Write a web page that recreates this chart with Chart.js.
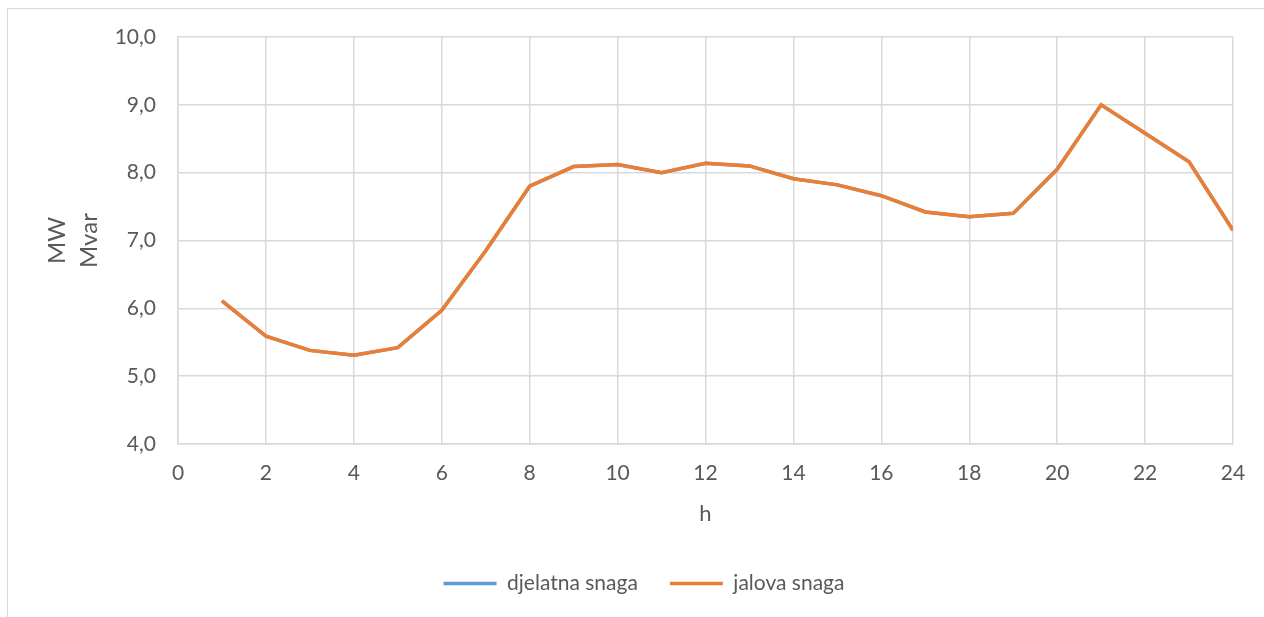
<!DOCTYPE html>
<html>
<head>
<meta charset="utf-8">
<script src="https://cdn.jsdelivr.net/npm/chart.js@4.4.1/dist/chart.umd.min.js"></script>
<style>
  html, body { margin: 0; padding: 0; background: #fff; overflow: hidden; }
  #frame { position: absolute; left: 7px; top: 8px; width: 1300px; height: 700px; border: 1.5px solid #d9d9d9; }
  #wrap { position: absolute; left: 0; top: 0; width: 1264px; height: 617px; }
</style>
</head>
<body>
<div id="frame"></div>
<div id="wrap"><canvas id="powerChart"></canvas></div>
<script>
// hourly values
const hours = [1, 2, 3, 4, 5, 6, 7, 8, 9, 10, 11, 12, 13, 14, 15, 16, 17, 18, 19, 20, 21, 22, 23, 24];
const activePower = [6.11, 5.59, 5.38, 5.31, 5.42, 5.97, 6.85, 7.80, 8.09, 8.12, 8.00, 8.14,
                     8.10, 7.91, 7.82, 7.66, 7.42, 7.35, 7.40, 8.05, 9.00, 8.58, 8.16, 7.15];
const reactivePower = [6.11, 5.59, 5.38, 5.31, 5.42, 5.97, 6.85, 7.80, 8.09, 8.12, 8.00, 8.14,
                       8.10, 7.91, 7.82, 7.66, 7.42, 7.35, 7.40, 8.05, 9.00, 8.58, 8.16, 7.15];
const seriesNames = ["djelatna snaga", "jalova snaga"];
const yTitle = ["MW", "Mvar"];
const xTitle = "h";

const textColor = "#595959";
const gridColor = "#d9d9d9";
const fontFamily = "Lato, 'Open Sans', sans-serif";

function toPoints(values) {
  return hours.map((h, i) => ({ x: h, y: values[i] }));
}

document.addEventListener("DOMContentLoaded", () => {
  const ctx = document.getElementById("powerChart");

  new Chart(ctx, {
    type: "line",
    data: {
      datasets: [
        {
          label: seriesNames[0],
          data: toPoints(activePower),
          borderColor: "#5b9bd5",
          backgroundColor: "#5b9bd5",
          borderWidth: 3.5,
          pointRadius: 0,
          tension: 0,
          order: 1,
        },
        {
          label: seriesNames[1],
          data: toPoints(reactivePower),
          borderColor: "#ed7d31",
          backgroundColor: "#ed7d31",
          borderWidth: 3.5,
          pointRadius: 0,
          tension: 0,
          order: 0,
        },
      ],
    },
    options: {
      responsive: true,
      maintainAspectRatio: false,
      animation: false,
      layout: {
        padding: { left: 55, top: 37, right: 31, bottom: 13 },
      },
      plugins: {
        legend: {
          position: "bottom",
          labels: {
            usePointStyle: true,
            pointStyle: "line",
            pointStyleWidth: 53,
            padding: 32,
            color: textColor,
            font: { family: fontFamily, size: 21 },
            sort: (a, b) => a.datasetIndex - b.datasetIndex,
          },
        },
        tooltip: { enabled: false },
      },
      scales: {
        x: {
          type: "linear",
          min: 0,
          max: 24,
          afterFit: (scale) => { scale.height = 97; },
          ticks: {
            stepSize: 2,
            padding: 17,
            color: textColor,
            font: { family: fontFamily, size: 21 },
          },
          grid: { color: gridColor, lineWidth: 1.5, drawTicks: false },
          border: { color: gridColor, width: 1.5 },
          title: {
            display: true,
            text: xTitle,
            color: textColor,
            font: { family: fontFamily, size: 22 },
            padding: { top: 0, bottom: 14 },
          },
        },
        y: {
          min: 4,
          max: 10,
          afterFit: (scale) => { scale.width = 123; },
          ticks: {
            stepSize: 1,
            padding: 22,
            color: textColor,
            font: { family: fontFamily, size: 21 },
            callback: (value) => value.toFixed(1).replace(".", ","),
          },
          grid: { color: gridColor, lineWidth: 1.5, drawTicks: false },
          border: { color: gridColor, width: 1.5 },
          title: {
            display: true,
            text: yTitle,
            color: textColor,
            font: { family: fontFamily, size: 24, lineHeight: 1.33 },
            padding: { top: -13.5, bottom: 0 },
          },
        },
      },
    },
  });
});
</script>
</body>
</html>
